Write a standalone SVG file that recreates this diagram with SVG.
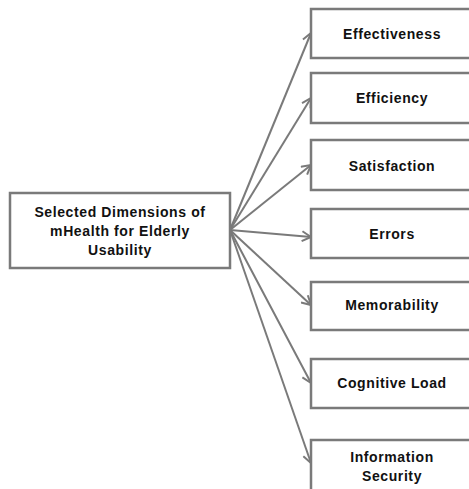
<svg xmlns="http://www.w3.org/2000/svg" width="469" height="489" viewBox="0 0 469 489">
<defs>
<marker id="arr" markerWidth="12" markerHeight="12" refX="10" refY="6" orient="auto" markerUnits="userSpaceOnUse">
<path d="M1,1 L10,6 L1,11" fill="none" stroke="#7a7a7a" stroke-width="2"/>
</marker>
<style>
.box{fill:#fff;stroke:#7a7a7a;stroke-width:2.5}
.t{font-family:"Liberation Sans",Arial,sans-serif;font-weight:bold;font-size:14px;letter-spacing:0.6px;fill:#111;text-anchor:middle}
.c{stroke:#7a7a7a;stroke-width:2;fill:none;marker-end:url(#arr)}
</style>
</defs>
<rect width="469" height="489" fill="#fff"/>
<g id="connectors">
<line class="c" x1="230" y1="230" x2="311" y2="33"/>
<line class="c" x1="230" y1="230" x2="311" y2="98"/>
<line class="c" x1="230" y1="230" x2="311" y2="165"/>
<line class="c" x1="230" y1="230" x2="311" y2="237"/>
<line class="c" x1="230" y1="230" x2="311" y2="305"/>
<line class="c" x1="230" y1="230" x2="311" y2="383"/>
<line class="c" x1="230" y1="230" x2="311" y2="463"/>
</g>
<g id="root">
<rect class="box" x="10" y="193" width="220" height="75"/>
<text class="t" x="120" y="217">Selected Dimensions of</text>
<text class="t" x="120" y="236">mHealth for Elderly</text>
<text class="t" x="120" y="255">Usability</text>
</g>
<g id="effectiveness">
<rect class="box" x="311" y="9" width="165" height="49"/>
<text class="t" x="392" y="39">Effectiveness</text>
</g>
<g id="efficiency">
<rect class="box" x="311" y="73" width="165" height="50"/>
<text class="t" x="392" y="103">Efficiency</text>
</g>
<g id="satisfaction">
<rect class="box" x="311" y="140" width="165" height="50"/>
<text class="t" x="392" y="171">Satisfaction</text>
</g>
<g id="errors">
<rect class="box" x="311" y="209" width="165" height="49"/>
<text class="t" x="392" y="239">Errors</text>
</g>
<g id="memorability">
<rect class="box" x="311" y="282" width="165" height="48"/>
<text class="t" x="392" y="310">Memorability</text>
</g>
<g id="cognitive">
<rect class="box" x="311" y="359" width="165" height="49"/>
<text class="t" x="392" y="388">Cognitive Load</text>
</g>
<g id="security">
<rect class="box" x="311" y="440" width="165" height="60"/>
<text class="t" x="392" y="462">Information</text>
<text class="t" x="392" y="481">Security</text>
</g>
</svg>
